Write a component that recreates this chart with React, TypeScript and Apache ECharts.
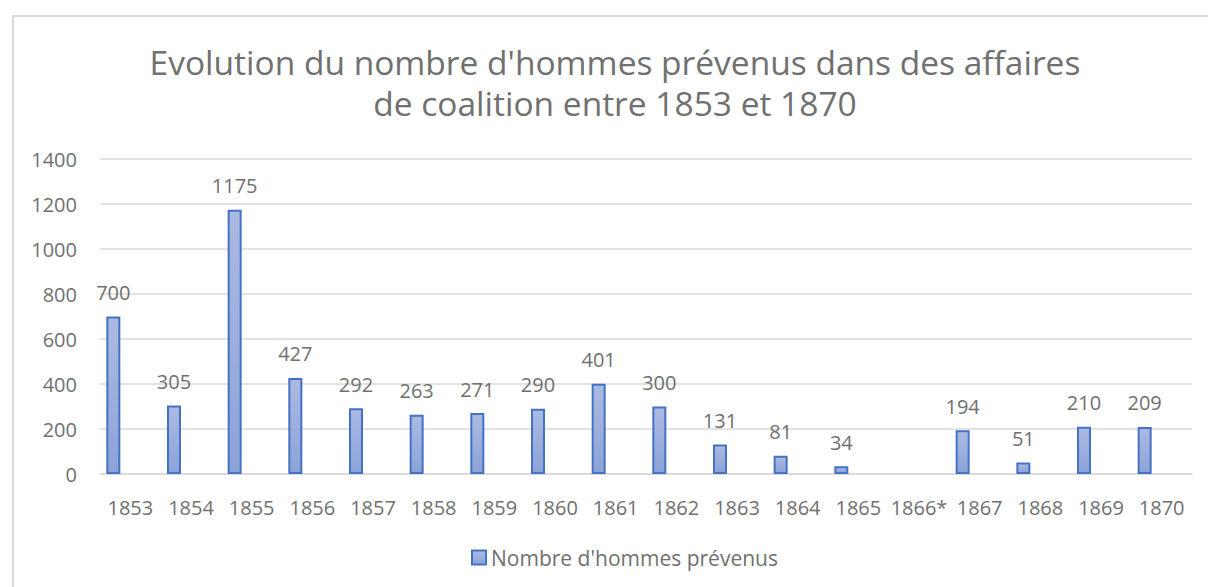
import React, { useEffect, useRef } from "react";
import * as echarts from "echarts";

const categories = ["1853", "1854", "1855", "1856", "1857", "1858", "1859", "1860", "1861", "1862", "1863", "1864", "1865", "1866*", "1867", "1868", "1869", "1870"];
const prevenus: (number | null)[] = [700, 305, 1175, 427, 292, 263, 271, 290, 401, 300, 131, 81, 34, null, 194, 51, 210, 209];
const yTicks = { min: 0, max: 1400, interval: 200 };
const seriesName = "Nombre d'hommes prévenus";
const titleLines = ["Evolution du nombre d'hommes prévenus dans des affaires", "de coalition entre 1853 et 1870"];

const FONT = "'Open Sans', 'Noto Sans', sans-serif";
const TEXT = "#707070";

export default function App() {
  const ref = useRef<HTMLDivElement>(null);
  useEffect(() => {
    document.body.style.margin = "0";
    const chart = echarts.init(ref.current!, null, { renderer: "svg" });
    chart.setOption({
      animation: false,
      backgroundColor: "#ffffff",
      textStyle: { fontFamily: FONT },
      graphic: [
        {
          type: "rect",
          shape: { x: 13, y: 16, width: 1300, height: 700 },
          style: { fill: "none", stroke: "#D9D9D9", lineWidth: 2 },
          silent: true,
        },
      ],
      title: titleLines.map((t, i) => ({
        text: t,
        left: 615,
        top: 45 + i * 41,
        textAlign: "center",
        padding: 0,
        textStyle: {
          fontFamily: FONT,
          fontSize: 33.5,
          fontWeight: 400,
          color: TEXT,
          lineHeight: 34,
        },
      })),
      legend: {
        data: [seriesName],
        left: 466,
        top: 542,
        itemWidth: 14,
        itemHeight: 14,
        itemGap: 10,
        icon: "rect",
        textStyle: { fontFamily: FONT, fontSize: 21, color: TEXT },
      },
      grid: { left: 100, right: 16, top: 159, bottom: 113, containLabel: false },
      xAxis: {
        type: "category",
        data: categories,
        axisLine: { show: true, lineStyle: { color: "#D9D9D9", width: 1.5 } },
        axisTick: { show: false },
        axisLabel: { color: TEXT, fontSize: 20, margin: 23, fontFamily: FONT, interval: 0 },
      },
      yAxis: {
        type: "value",
        min: yTicks.min,
        max: yTicks.max,
        interval: yTicks.interval,
        axisLine: { show: false },
        axisTick: { show: false },
        axisLabel: {
          color: TEXT,
          fontSize: 20,
          margin: 23,
          fontFamily: FONT,
          formatter: (v: number) => String(v),
        },
        splitLine: { lineStyle: { color: "#D9D9D9", width: 1.5 } },
      },
      series: [
        {
          name: seriesName,
          type: "bar",
          data: prevenus,
          barWidth: 14,
          barGap: "143%",
          itemStyle: {
            color: new echarts.graphic.LinearGradient(0, 0, 0, 1, [
              { offset: 0, color: "#ABBAE2" },
              { offset: 1, color: "#8CA3D8" },
            ]),
            borderColor: "#4472C4",
            borderWidth: 2,
          },
          label: {
            show: true,
            position: "top",
            distance: 14,
            fontSize: 20,
            fontFamily: FONT,
            color: TEXT,
          },
        },
        {
          name: "_spacer",
          type: "bar",
          data: [],
          barWidth: 14,
        },
      ],
    });
    return () => chart.dispose();
  }, []);
  return <div ref={ref} style={{ width: 1208, height: 587 }} />;
}
